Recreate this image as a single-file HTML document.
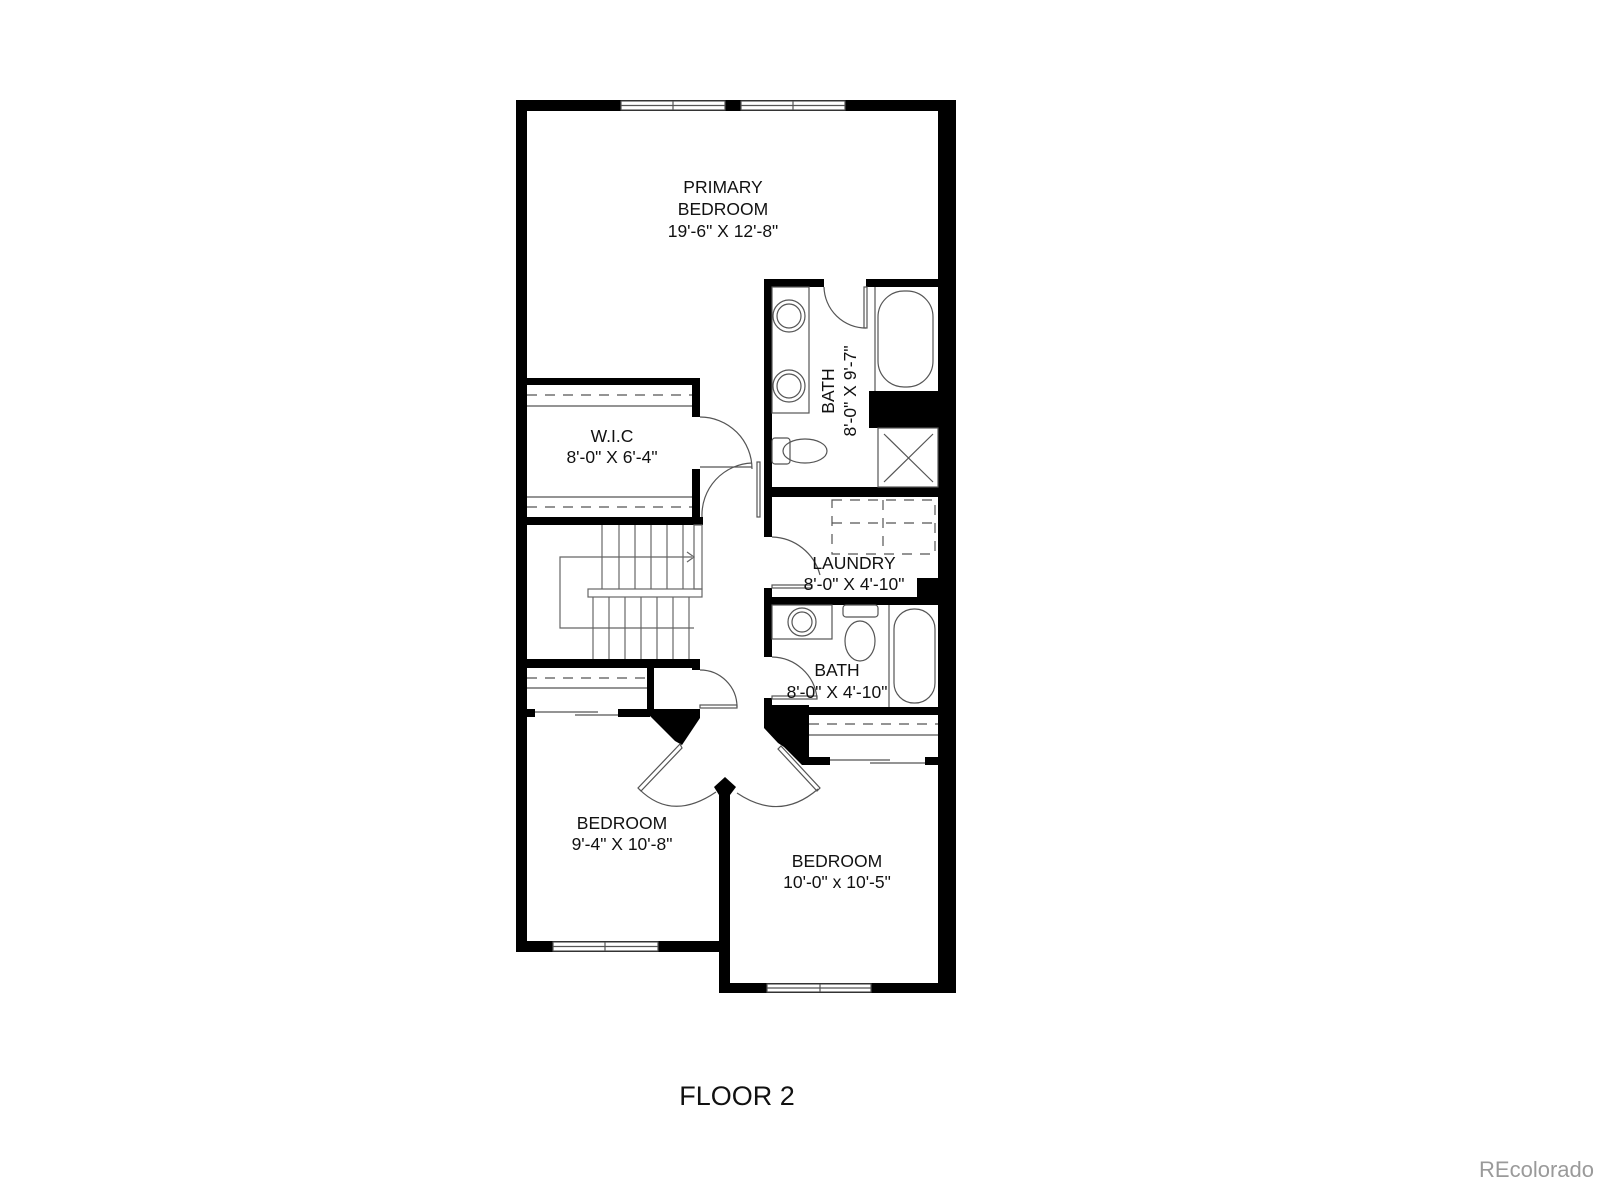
<!DOCTYPE html>
<html><head><meta charset="utf-8"><style>
html,body{margin:0;padding:0;background:#fff;}
svg{display:block;}
text{font-family:"Liberation Sans",Arial,sans-serif;fill:#111;}
</style></head><body>
<svg width="1600" height="1185" viewBox="0 0 1600 1185" xmlns="http://www.w3.org/2000/svg">
<rect width="1600" height="1185" fill="#fff"/>
<g fill="#000">
<rect x="516" y="100" width="440" height="11"/>
<rect x="516" y="100" width="11" height="852"/>
<rect x="938" y="100" width="18" height="893"/>
<rect x="516" y="941" width="214" height="11"/>
<rect x="719" y="787" width="11" height="206"/>
<rect x="719" y="983" width="237" height="10"/>
<rect x="764" y="279" width="60" height="8"/>
<rect x="866" y="279" width="72" height="8"/>
<rect x="764" y="279" width="8" height="258"/>
<rect x="772" y="487" width="166" height="10"/>
<rect x="869" y="391" width="69" height="37"/>
<rect x="527" y="378" width="173" height="7"/>
<rect x="692" y="378" width="8" height="39"/>
<rect x="692" y="469" width="8" height="56"/>
<rect x="527" y="517" width="176" height="8"/>
<rect x="764" y="588" width="8" height="17"/>
<rect x="764" y="597" width="174" height="8"/>
<rect x="917" y="578" width="21" height="20"/>
<rect x="764" y="605" width="8" height="52"/>
<rect x="764" y="698" width="8" height="10"/>
<rect x="764" y="707" width="174" height="8"/>
<rect x="527" y="659" width="173" height="9"/>
<rect x="692" y="659" width="8" height="11"/>
<rect x="647" y="668" width="7" height="42"/>
<rect x="527" y="709" width="8" height="8"/>
<rect x="618" y="709" width="32" height="8"/>
<polygon points="647,709 700,709 700,718 682,745 675,741 650,716"/>
<polygon points="764,705 809,705 809,757 830,757 830,765 802,765 784,747 778,743 764,728"/>
<rect x="925" y="757" width="13" height="8"/>
<polygon points="714,787 725,777 736,787 730,795 719,795"/>
</g>
<g fill="none" stroke="#555" stroke-width="1.2">
<rect x="621" y="101" width="104" height="9" fill="#fff"/>
<rect x="741" y="101" width="104" height="9" fill="#fff"/>
<line x1="621" y1="105.5" x2="725" y2="105.5"/><line x1="741" y1="105.5" x2="845" y2="105.5"/>
<line x1="673" y1="101" x2="673" y2="110"/><line x1="793" y1="101" x2="793" y2="110"/>
<rect x="553" y="942" width="105" height="9" fill="#fff"/>
<line x1="553" y1="946.5" x2="658" y2="946.5"/><line x1="605" y1="942" x2="605" y2="951"/>
<rect x="767" y="984" width="104" height="8" fill="#fff"/>
<line x1="767" y1="988" x2="871" y2="988"/><line x1="820" y1="984" x2="820" y2="992"/>
<rect x="878" y="291" width="55" height="96" rx="26"/>
<line x1="875" y1="287" x2="875" y2="391"/>
<rect x="772" y="287" width="37" height="126"/>
<circle cx="789" cy="316" r="16"/><circle cx="789" cy="316" r="12"/>
<circle cx="789" cy="386" r="16"/><circle cx="789" cy="386" r="12"/>
<rect x="772" y="438" width="18" height="26" rx="3"/>
<ellipse cx="805" cy="451" rx="22" ry="12"/>
<rect x="878" y="428" width="60" height="59"/>
<line x1="884" y1="434" x2="933" y2="482"/><line x1="933" y1="434" x2="884" y2="482"/>
<path d="M824,287 A42,42 0 0 0 866,328"/>
<rect x="864" y="287" width="3" height="41"/>
<line x1="527" y1="395" x2="692" y2="395" stroke-dasharray="10,8"/>
<line x1="527" y1="406" x2="692" y2="406"/>
<line x1="527" y1="507" x2="692" y2="507" stroke-dasharray="10,8"/>
<line x1="527" y1="497" x2="692" y2="497"/>
<path d="M700,417 A52,52 0 0 1 752,469"/>
<line x1="700" y1="467" x2="752" y2="467"/>
<path d="M752,463 A52,52 0 0 0 702,517"/>
<rect x="757" y="462" width="3" height="55"/>
<rect x="832" y="500" width="103" height="54" stroke-dasharray="10,8"/>
<line x1="832" y1="523" x2="935" y2="523" stroke-dasharray="10,8"/>
<line x1="883" y1="500" x2="883" y2="554" stroke-dasharray="10,8"/>
<path d="M772,537 A51,51 0 0 1 820,575"/>
<rect x="772" y="585" width="40" height="3"/>
<rect x="772" y="605" width="60" height="34"/>
<circle cx="802" cy="622" r="14"/><circle cx="802" cy="622" r="10"/>
<rect x="843" y="605" width="35" height="12" rx="3"/>
<ellipse cx="860" cy="641" rx="15" ry="20"/>
<line x1="889" y1="605" x2="889" y2="707"/>
<rect x="894" y="609" width="41" height="94" rx="20"/>
<path d="M772,657 A46,46 0 0 1 817,698"/>
<rect x="772" y="696" width="45" height="3"/>
<g stroke="#666">
<line x1="602" y1="525" x2="602" y2="589"/><line x1="619" y1="525" x2="619" y2="589"/>
<line x1="635" y1="525" x2="635" y2="589"/><line x1="651" y1="525" x2="651" y2="589"/>
<line x1="667" y1="525" x2="667" y2="589"/><line x1="683" y1="525" x2="683" y2="589"/>
<rect x="694" y="525" width="8" height="64"/>
<rect x="588" y="589" width="114" height="8"/>
<line x1="593" y1="597" x2="593" y2="659"/><line x1="609" y1="597" x2="609" y2="659"/>
<line x1="625" y1="597" x2="625" y2="659"/><line x1="641" y1="597" x2="641" y2="659"/>
<line x1="657" y1="597" x2="657" y2="659"/><line x1="673" y1="597" x2="673" y2="659"/>
<line x1="689" y1="597" x2="689" y2="659"/>
<polyline points="692,557 560,557 560,628 694,628"/>
<polyline points="687,552 694,557 687,562"/>
</g>
<line x1="527" y1="678" x2="647" y2="678" stroke-dasharray="10,8"/>
<line x1="527" y1="688" x2="647" y2="688"/>
<line x1="535" y1="712" x2="598" y2="712"/><line x1="575" y1="715" x2="618" y2="715"/>
<path d="M700,670 A37,37 0 0 1 737,707"/>
<rect x="700" y="705" width="37" height="3"/>
<line x1="809" y1="724" x2="938" y2="724" stroke-dasharray="10,8"/>
<line x1="809" y1="735" x2="938" y2="735"/>
<line x1="830" y1="760" x2="890" y2="760"/><line x1="870" y1="763" x2="925" y2="763"/>
<path d="M680,744 L638,788 L641,791 L682,748 Z"/>
<path d="M639,789 Q672,822 716,792"/>
<path d="M781,746 L820,788 L817,791 L778,749 Z"/>
<path d="M818,789 Q780,822 737,793"/>
</g>
<g text-anchor="middle" font-size="17.5">
<text x="723" y="193">PRIMARY</text>
<text x="723" y="215">BEDROOM</text>
<text x="723" y="237">19'-6" X 12'-8"</text>
<text x="612" y="442">W.I.C</text>
<text x="612" y="463">8'-0" X 6'-4"</text>
<text x="854" y="569">LAUNDRY</text>
<text x="854" y="590">8'-0" X 4'-10"</text>
<text x="837" y="676">BATH</text>
<text x="837" y="698">8'-0" X 4'-10"</text>
<text x="622" y="829">BEDROOM</text>
<text x="622" y="850">9'-4" X 10'-8"</text>
<text x="837" y="867">BEDROOM</text>
<text x="837" y="888">10'-0" x 10'-5"</text>
<text transform="translate(834,391) rotate(-90)">BATH</text>
<text transform="translate(856,391) rotate(-90)">8'-0" X 9'-7"</text>
<text x="737" y="1105" font-size="27">FLOOR 2</text>
</g>
<text x="1594" y="1177" text-anchor="end" font-size="22" style="fill:#9a9a9a">REcolorado</text>
</svg>
</body></html>
